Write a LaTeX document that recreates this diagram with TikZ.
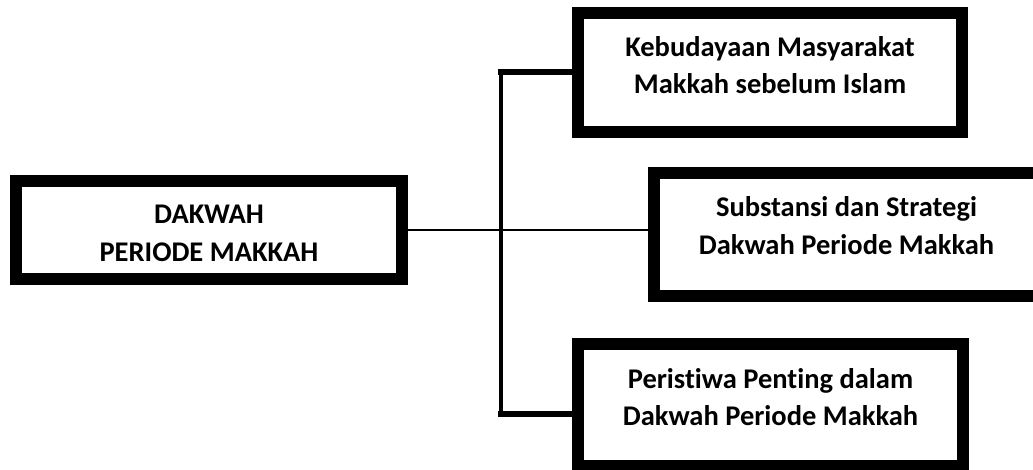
\documentclass[tikz,border=0pt]{standalone}
\usepackage{fontspec}
\setmainfont{Carlito}[Ligatures=NoCommon]
\begin{document}
\begin{tikzpicture}[
    x=1pt, y=-1pt,
    topic/.style={rectangle, draw=black, line width=12pt, fill=white, align=center,
                  inner sep=0pt, font=\fontsize{28.5}{37.5}\selectfont\bfseries},
    link/.style={draw=black, line width=2.5pt},
    spine/.style={draw=black, line width=4pt},
    branch/.style={draw=black, line width=6pt, line cap=rect}
]
\path[use as bounding box, clip] (0,0) rectangle (1033,470);

% Tema utama
\node[topic, minimum width=386pt, minimum height=98pt, text height=63pt] at (209,230) (main) {
    DAKWAH\\PERIODE MAKKAH
};

% Sub tema
\node[topic, minimum width=384pt, minimum height=119pt, text depth=15pt] at (770,72.5) (budaya) {
    Kebudayaan Masyarakat\\Makkah sebelum Islam
};

\node[topic, minimum width=385pt, minimum height=123pt, text depth=18pt] at (846.5,234.5) (strategi) {
    Substansi dan Strategi\\Dakwah Periode Makkah
};

\node[topic, minimum width=385pt, minimum height=122pt, text depth=16pt] at (770.5,405) (peristiwa) {
    Peristiwa Penting dalam\\Dakwah Periode Makkah
};

% Garis penghubung
\coordinate (spinetop) at (500.5,72);
\coordinate (spinebot) at (500.5,414);

\draw[link] (main.east) -- (main.east -| strategi.west);
\draw[spine] (spinetop) -- (spinebot);
\draw[branch] (spinetop) -- (spinetop -| budaya.west);
\draw[branch] (spinebot) -- (spinebot -| peristiwa.west);

\end{tikzpicture}
\end{document}
